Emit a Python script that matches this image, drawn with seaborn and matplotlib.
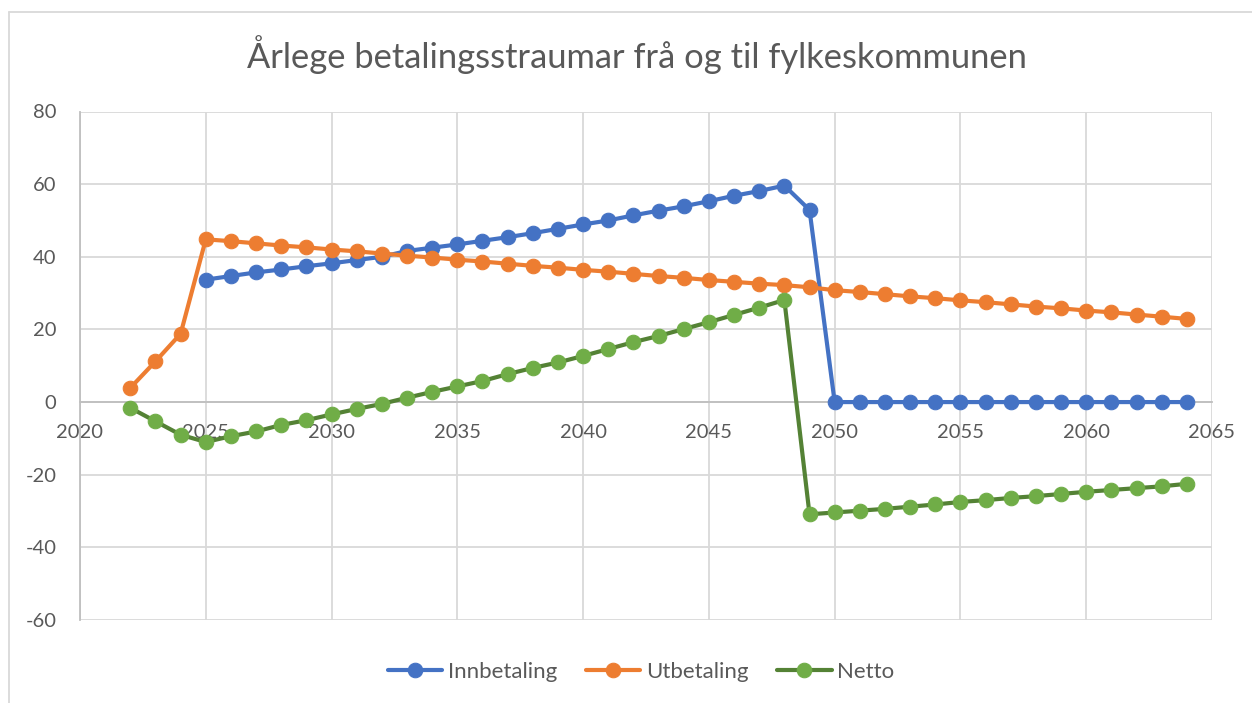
import numpy as np
import pandas as pd
import matplotlib
matplotlib.use("Agg")
import matplotlib.pyplot as plt
from matplotlib.lines import Line2D
import seaborn as sns

# Data lest av figuren (mill. kr)
aar = list(range(2022, 2065))

innbetaling = [np.nan, np.nan, np.nan,
               33.7, 34.7, 35.7, 36.5, 37.4, 38.2, 39.1, 40.0, 41.6, 42.5,
               43.4, 44.4, 45.4, 46.5, 47.7, 48.9, 50.0, 51.4, 52.7, 53.9,
               55.3, 56.8, 58.1, 59.6, 52.9,
               0, 0, 0, 0, 0, 0, 0, 0, 0, 0, 0, 0, 0, 0, 0]

utbetaling = [3.9, 11.2, 18.8,
              44.8, 44.3, 43.7, 43.1, 42.6, 42.0, 41.5, 40.9, 40.3, 39.8,
              39.2, 38.7, 38.1, 37.5, 37.0, 36.4, 35.9, 35.3, 34.7, 34.2,
              33.6, 33.1, 32.6, 32.2, 31.6,
              30.8, 30.3, 29.7, 29.1, 28.6, 28.0, 27.5, 26.9, 26.3, 25.8,
              25.2, 24.7, 24.1, 23.5, 22.9]

netto = [-1.6, -5.3, -9.0,
         -11.0, -9.4, -8.1, -6.3, -5.0, -3.4, -1.9, -0.5, 1.2, 2.8,
         4.3, 5.8, 7.7, 9.4, 10.9, 12.7, 14.6, 16.5, 18.2, 20.1,
         22.0, 24.0, 26.0, 28.1, -30.9,
         -30.4, -29.9, -29.4, -28.8, -28.2, -27.5, -27.0, -26.4, -25.9, -25.3,
         -24.7, -24.2, -23.7, -23.2, -22.5]

serie_namn = ["Innbetaling", "Utbetaling", "Netto"]
linjefarge = ["#4472C4", "#ED7D31", "#548235"]
markorfarge = ["#4472C4", "#ED7D31", "#70AD47"]

df = pd.DataFrame({"År": aar, "Innbetaling": innbetaling,
                   "Utbetaling": utbetaling, "Netto": netto})
df_long = df.melt(id_vars="År", var_name="Serie", value_name="Verdi")

sns.set_theme(style="white")
plt.rcParams['font.family'] = ['Lato', 'DejaVu Sans']
plt.rcParams['axes.unicode_minus'] = False
tekstfarge = "#595959"
gridfarge = "#D9D9D9"

fig = plt.figure(figsize=(12.52, 7.03), dpi=100)
ax = fig.add_axes([80 / 1252, 1 - 620 / 703, (1212 - 80) / 1252, (620 - 111.5) / 703])

for namn, lf, mf in zip(serie_namn, linjefarge, markorfarge):
    sub = df_long[df_long["Serie"] == namn].dropna()
    sns.lineplot(data=sub, x="År", y="Verdi", ax=ax, color=lf, linewidth=3,
                 marker="o", markersize=10.5, markerfacecolor=mf,
                 markeredgecolor=mf, label=namn, zorder=3)

ax.set_xlim(2020, 2065)
ax.set_ylim(-60, 80)
ax.set_xticks(range(2020, 2066, 5))
ax.set_yticks(range(-60, 81, 20))
ax.grid(True, color=gridfarge, linewidth=1.3)
ax.set_axisbelow(True)
ax.set_xlabel("")
ax.set_ylabel("")

for s in ["top", "right"]:
    ax.spines[s].set_visible(False)
ax.spines["left"].set_color("#BFBFBF")
ax.spines["left"].set_linewidth(1.3)
ax.spines["bottom"].set_position(("data", 0))
ax.spines["bottom"].set_color("#BFBFBF")
ax.spines["bottom"].set_linewidth(1.3)

ax.tick_params(axis="both", length=0, labelsize=14.5, labelcolor=tekstfarge)
ax.tick_params(axis="x", pad=16)
ax.tick_params(axis="y", pad=17)

fig.text(0.5084, 1 - 55 / 703, "Årlege betalingsstraumar frå og til fylkeskommunen",
         ha="center", va="center", fontsize=24.8, color=tekstfarge)

leg = ax.legend(loc="center", bbox_to_anchor=(641 / 1252, 1 - 672 / 703),
                bbox_transform=fig.transFigure, ncol=3, frameon=False,
                fontsize=16, handlelength=2.45, columnspacing=1.3, handletextpad=0.25)
for t in leg.get_texts():
    t.set_color(tekstfarge)

# ramme rundt diagrammet
fig.add_artist(Line2D([9 / 1252, 9 / 1252], [0, 1 - 12 / 703],
                      transform=fig.transFigure, color="#D9D9D9", linewidth=1.3))
fig.add_artist(Line2D([9 / 1252, 1], [1 - 12 / 703, 1 - 12 / 703],
                      transform=fig.transFigure, color="#D9D9D9", linewidth=1.3))

fig.savefig("out.png", dpi=100)
plt.close(fig)
